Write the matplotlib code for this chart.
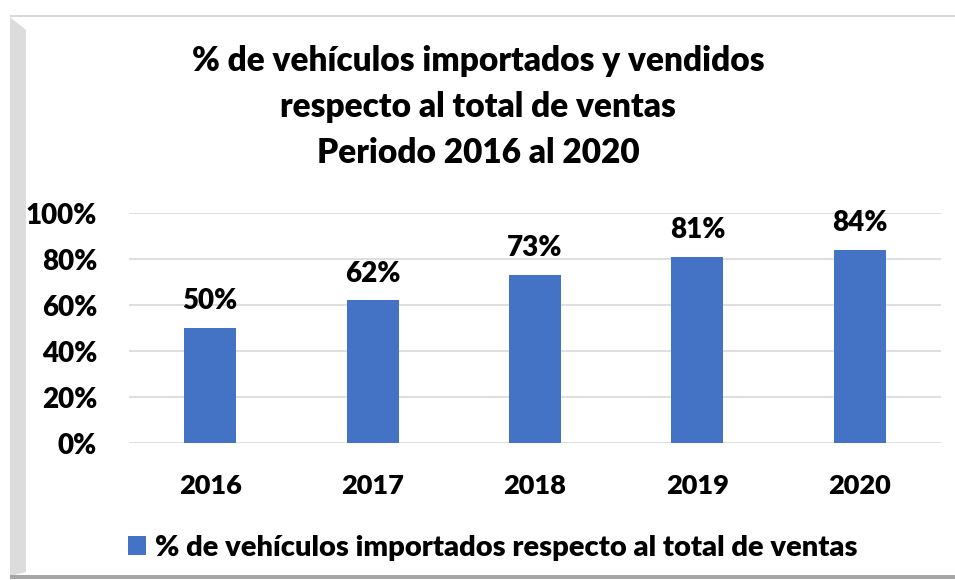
import matplotlib.pyplot as plt
from matplotlib.patches import Polygon, Rectangle

plt.rcParams['font.family'] = ['Lato', 'DejaVu Sans']
plt.rcParams['font.weight'] = 'heavy'

years = ['2016', '2017', '2018', '2019', '2020']
valores = [0.50, 0.62, 0.73, 0.81, 0.84]
etiquetas = ['50%', '62%', '73%', '81%', '84%']
yticks = [0, 0.2, 0.4, 0.6, 0.8, 1.0]
ytick_labels = ['0%', '20%', '40%', '60%', '80%', '100%']
titulo = '% de vehículos importados y vendidos\nrespecto al total de ventas\nPeriodo 2016 al 2020'
serie = '% de vehículos importados respecto al total de ventas'

W, H = 955, 580
fig = plt.figure(figsize=(W / 100, H / 100), dpi=100)

# marco tipo excel
fig.patches.append(Rectangle((10 / W, 1 - 17 / H), 1 - 10 / W, 2 / H,
                             transform=fig.transFigure, color='#d9d9d9', lw=0))
fig.patches.append(Polygon([(10 / W, 1 - 17 / H), (26 / W, 1 - 30 / H),
                            (26 / W, 1 - 572 / H), (10 / W, 1 - 576 / H)],
                           closed=True, transform=fig.transFigure,
                           color='#dcdcdc', lw=0))
fig.patches.append(Rectangle((10 / W, 1 - 579 / H), 1 - 10 / W, 4 / H,
                             transform=fig.transFigure, color='#a6a6a6', lw=0))

ax = fig.add_axes([129 / W, 1 - 443 / H, 812 / W, 230 / H])
x = range(len(years))
bars = ax.bar(x, valores, width=0.32, color='#4472C4', label=serie, zorder=2)
for xi, v, t in zip(x, valores, etiquetas):
    ax.text(xi, v + 0.06, t, ha='center', va='bottom', fontsize=20,
            fontweight='heavy')

ax.set_xlim(-0.5, 4.5)
ax.set_ylim(0, 1.0)
ax.set_yticks(yticks)
ax.set_yticklabels(ytick_labels, fontsize=20, fontweight='heavy')
ax.set_xticks(list(x))
ax.set_xticklabels(years, fontsize=19.5, fontweight='heavy')
ax.tick_params(length=0)
ax.tick_params(axis='x', pad=22)
ax.tick_params(axis='y', pad=23)
ax.yaxis.grid(True, color='#d9d9d9', lw=1.2, zorder=0)
ax.set_axisbelow(True)
for s in ax.spines.values():
    s.set_visible(False)

fig.text(478 / W, 1 - 107 / H, titulo, ha='center', va='center',
         fontsize=24, fontweight='heavy', linespacing=1.55)

fig.legend(handles=[bars], labels=[serie], loc='center',
           bbox_to_anchor=(493 / W, 1 - 548 / H), frameon=False,
           prop={'size': 21, 'weight': 'heavy'}, handlelength=0.62,
           handleheight=0.62, handletextpad=0.32)

fig.savefig('out.png', dpi=100)
